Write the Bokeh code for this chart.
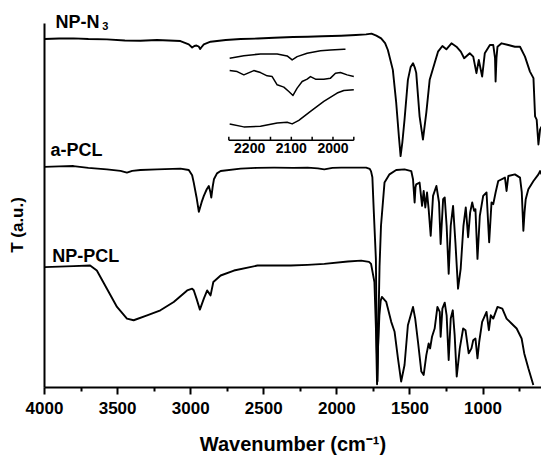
from bokeh.plotting import figure
from bokeh.models import Range1d, FixedTicker, Label
from bokeh.core.properties import value
from bokeh.embed import file_html
from bokeh.resources import INLINE

FONT = "Liberation Sans"

# ---------------- data (wavenumber cm-1, transmittance a.u. with offsets) -------------
np_n3_wn = [4000, 3900, 3802, 3700, 3573, 3450, 3344, 3230, 3150, 3070, 3013, 2990, 2975, 2960,
            2945, 2935, 2925, 2910, 2864, 2760, 2658, 2540, 2429, 2300, 2200, 2100, 1971, 1870,
            1800, 1763, 1730, 1697, 1670, 1651, 1617, 1594, 1575, 1564, 1552, 1537, 1514, 1495,
            1479, 1466, 1457, 1434, 1411, 1388, 1365, 1331, 1308, 1278, 1251, 1216, 1182, 1152,
            1129, 1091, 1067, 1045, 1029, 1006, 988, 953, 930, 918, 914, 908, 901, 873, 827, 782,
            747, 713, 679, 655, 644, 633, 621, 610, 600]
np_n3_t = [349, 349.5, 349.7, 349, 348.7, 347.5, 347.3, 348, 347.5, 347, 343.7, 340.5, 342, 342.5,
           341.5, 339, 341, 343.7, 346.3, 348, 349, 349.5, 350.3, 351, 351.3, 351.8, 352.3, 353,
           353.7, 354.5, 352.5, 349.7, 345, 338, 318, 285, 250, 231.3, 245, 268, 308, 321,
           324.7, 320, 315, 271.3, 248, 275, 308, 325, 336.3, 342, 338.7, 344.7, 341.3, 336.3,
           329.7, 334.7, 331.3, 314.7, 328, 311.3, 334.7, 343, 343, 330, 306.3, 330, 341.3, 344.7, 343, 341.3,
           341.3, 331.3, 316.3, 309.7, 271.3, 268, 243, 258, 261]

a_pcl_wn = [4000, 3900, 3802, 3700, 3573, 3480, 3436, 3400, 3344, 3230, 3070, 3013, 2990, 2979,
            2960, 2944, 2925, 2910, 2890, 2876, 2865, 2859, 2850, 2841, 2820, 2795, 2658, 2550,
            2429, 2300, 2200, 2130, 2086, 2030, 1971, 1800, 1775, 1766, 1757, 1748, 1733, 1727,
            1722, 1716, 1708, 1698, 1674, 1640, 1594, 1537, 1491, 1479, 1468, 1462, 1457, 1434,
            1417, 1406, 1395, 1383, 1372, 1358, 1342, 1319, 1301, 1290, 1273, 1262, 1249, 1235,
            1221, 1205, 1189, 1171, 1153, 1134, 1118, 1102, 1088, 1074, 1061, 1052, 1038, 1022,
            999, 976, 958, 942, 930, 914, 896, 850, 839, 827, 782, 747, 735, 724, 716, 708, 690,
            655, 621, 610, 600]
a_pcl_t = [220.5, 221, 221.3, 219.5, 218, 216.5, 214.7, 216.5, 217.3, 218, 218.7, 217.3, 212, 204.7,
           190, 175.3, 185, 191.3, 198, 201.3, 195, 189.7, 200, 208, 214, 216.3, 218.7, 219.5,
           219.7, 219.5, 219.7, 219, 218, 219.5, 219.7, 219.7, 218.5, 216, 210, 178, 128, 40,
           5, 60, 120, 161.3, 204.7, 213, 217.3, 218, 216.3, 208, 184.7, 200, 203, 204.7,
           181.3, 196.3, 179.7, 194.7, 178, 151.3, 191.3, 201.3, 184.7, 143, 188, 189.7, 161.3, 113,
           161.3, 181.3, 144.7, 98, 118, 161.3, 179.7, 149.7, 174.7, 184.7, 176.3, 178, 128, 171.3,
           191.3, 194.7, 144.7, 184.7, 183, 194.7, 206.3, 209.7, 196.3, 211.3, 213, 209.7, 195, 156.3, 175, 188, 198,
           206.3, 213, 216.3, 213]

np_pcl_wn = [4000, 3900, 3802, 3688, 3642, 3573, 3504, 3436, 3390, 3298, 3207, 3116, 3024, 2990,
             2979, 2960, 2937, 2910, 2887, 2864, 2845, 2795, 2704, 2543, 2430, 2315, 2200, 2086,
             1925, 1834, 1780, 1766, 1743, 1733, 1725, 1718, 1709, 1700, 1692, 1662, 1628, 1605,
             1582, 1560, 1537, 1514, 1479, 1464, 1445, 1422, 1406, 1388, 1372, 1362, 1349, 1331,
             1312, 1296, 1290, 1278, 1262, 1249, 1235, 1221, 1207, 1194, 1180, 1159, 1136, 1120,
             1098, 1079, 1067, 1052, 1038, 1026, 1006, 976, 960, 947, 930, 901, 868, 839, 805,
             770, 736, 718, 690, 656]
np_pcl_t = [119.7, 120.2, 120.7, 121.3, 116.3, 98, 79.7, 68, 66.3, 71.3, 76.3, 84.7, 96.3, 98,
            96.5, 88, 77, 88, 96.3, 91.3, 104.7, 111.3, 116.3, 121.3, 121.5, 121.3, 122, 123,
            125.3, 126.3, 125, 123, 104.7, 60, 2, 40, 71.3, 86, 89.7, 84.7, 64.7, 54.7,
            28, 4.7, 21.3, 61.3, 79.7, 68, 44.7, 14.7, 11.3, 31.3, 43, 38, 49.7, 58,
            79.7, 74.7, 49.7, 78, 84, 71.3, 26.3, 68, 76.3, 51.3, 9.7, 38, 58, 56.3,
            33, 38, 46.3, 48, 28, 44.7, 64.7, 74.7, 56.3, 71.3, 68, 79.7, 78, 68, 63,
            58, 48, 33, 18, 1.3]

# inset (2250-1950 cm-1 region)
inset1_wn = [2248, 2214, 2174, 2134, 2110, 2098, 2086, 2062, 2030, 2006, 1974, 1970]
inset1_t = [82.4, 85, 86.7, 86.7, 84.7, 80.7, 84, 87.4, 90, 90.7, 91.4, 91.4]
inset2_wn = [2248, 2230, 2214, 2190, 2174, 2158, 2146, 2134, 2118, 2106, 2096, 2086, 2074, 2062,
             2054, 2042, 2022, 2006, 1994, 1982, 1966, 1950]
inset2_t = [70, 69, 65.7, 70, 68, 64.7, 64, 55.7, 53.4, 49, 45, 52.4, 59, 61.4,
            64, 61.4, 61.4, 62.4, 67.4, 68, 65.7, 64]
inset3_wn = [2248, 2214, 2174, 2134, 2110, 2098, 2082, 2054, 2022, 1990, 1974, 1950]
inset3_t = [16.4, 13.4, 14, 17.4, 18, 16.4, 20, 29, 39, 47.4, 50, 50.7]

x_major = [4000, 3500, 3000, 2500, 2000, 1500, 1000]
x_minor = [3750, 3250, 2750, 2250, 1750, 1250, 750]
inset_ticks = [2250, 2200, 2150, 2100, 2050, 2000, 1950]
inset_labels = ["2200", "2100", "2000"]
inset_label_pos = [2200, 2100, 2000]

# ---------------- figure ---------------------------------------------------------------
p = figure(width=541, height=457, x_range=Range1d(4000, 600), y_range=Range1d(-1.3, 377.7),
           output_backend="svg", toolbar_location=None,
           min_border_left=44, min_border_right=0, min_border_top=10, min_border_bottom=68)
p.xgrid.visible = False
p.ygrid.visible = False
p.outline_line_color = None
p.background_fill_color = "white"
p.border_fill_color = "white"

LW = 1.9
for xs, ys in [(np_n3_wn, np_n3_t), (a_pcl_wn, a_pcl_t), (np_pcl_wn, np_pcl_t)]:
    p.line(xs, ys, line_color="black", line_width=LW, line_join="round")

# x axis
xa = p.xaxis[0]
xa.ticker = FixedTicker(ticks=x_major, minor_ticks=x_minor)
xa.axis_line_width = 2
xa.major_tick_line_width = 2
xa.minor_tick_line_width = 2
xa.major_tick_out = 7
xa.major_tick_in = 0
xa.minor_tick_out = 4
xa.minor_tick_in = 0
xa.major_label_standoff = 7
xa.major_label_text_font = FONT
xa.major_label_text_font_style = "bold"
xa.major_label_text_font_size = "17px"
xa.major_label_text_color = "black"
xa.axis_label = "Wavenumber (cm\u207b\u00b9)"
xa.axis_label_text_font = FONT
xa.axis_label_text_font_style = "bold"
xa.axis_label_text_font_size = "20px"
xa.axis_label_text_color = "black"
xa.axis_label_standoff = 16

# y axis: line only, limited to the original frame height; title set lower by trailing
# non-breaking spaces (the label is centred on the frame)
ya = p.yaxis[0]
ya.ticker = FixedTicker(ticks=[])
ya.bounds = (-1.3, 364.7)
ya.axis_line_width = 2
ya.major_tick_line_color = None
ya.minor_tick_line_color = None
ya.major_tick_out = 0
ya.major_tick_in = 0
ya.minor_tick_out = 0
ya.minor_tick_in = 0
ya.major_label_text_font_size = "0px"
ya.major_label_standoff = 0
ya.axis_label = "T (a.u.)" + "\u00a0" * 11
ya.axis_label_standoff = 18
ya.axis_label_text_font = FONT
ya.axis_label_text_font_style = "bold"
ya.axis_label_text_font_size = "17px"
ya.axis_label_text_color = "black"

# curve labels
lab_kw = dict(text_font=FONT, text_font_style="bold", text_font_size="18px",
              text_align="left", text_baseline="alphabetic", text_color="black")
p.add_layout(Label(x=3925, y=366, text="NP-N", **lab_kw))
p.add_layout(Label(x=3605, y=362, text="3", text_font=FONT, text_font_style="bold",
                   text_font_size="11px", text_align="left", text_baseline="alphabetic",
                   text_color="black"))
p.add_layout(Label(x=3959, y=237, text="a-PCL", **lab_kw))
p.add_layout(Label(x=3947, y=131, text="NP-PCL", **lab_kw))

# ---------------- inset -----------------------------------------------------------------
sub = p.subplot(x_source=Range1d(2250, 1950), y_source=Range1d(0, 100),
                x_target=Range1d(2739, 1884), y_target=Range1d(247.3, 347.3))
for xs, ys in [(inset1_wn, inset1_t), (inset2_wn, inset2_t), (inset3_wn, inset3_t)]:
    sub.line(xs, ys, line_color="black", line_width=1.5, line_join="round")
sub.line([inset_ticks[0], inset_ticks[-1]], [0, 0], line_color="black", line_width=1.5)
sub.segment(x0=inset_ticks, y0=[0] * len(inset_ticks), x1=inset_ticks,
            y1=[3.5] * len(inset_ticks), line_color="black", line_width=1.5)
sub.text(x=inset_label_pos, y=[-3] * len(inset_label_pos), text=inset_labels,
         text_font=value(FONT), text_font_style="bold", text_font_size="14px",
         text_align="center", text_baseline="top", text_color="black")

open("out.html", "w").write(file_html(p, INLINE))
